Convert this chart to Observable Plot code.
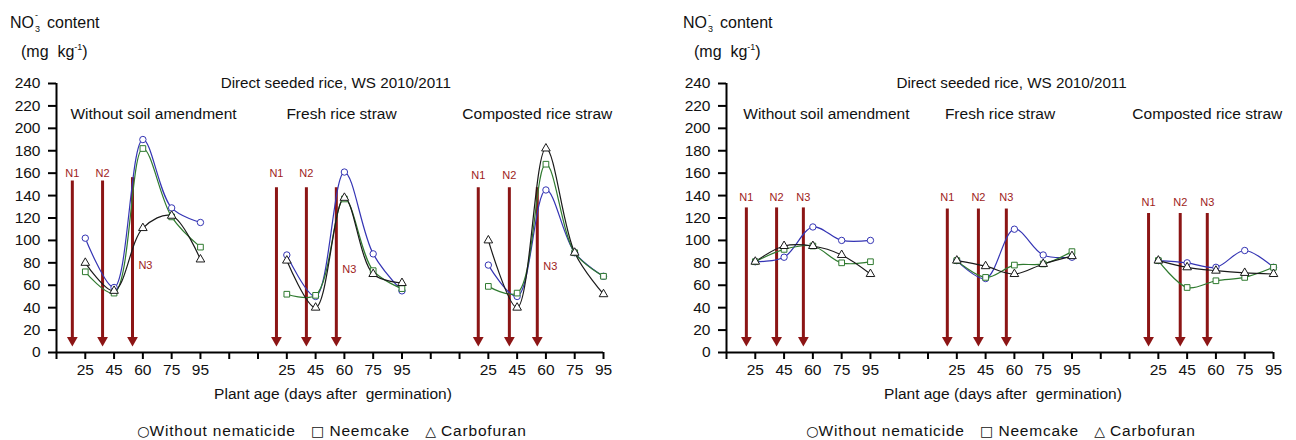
<!DOCTYPE html>
<html>
<head>
<meta charset="utf-8">
<script src="https://cdn.jsdelivr.net/npm/d3@7"></script>
<script src="https://cdn.jsdelivr.net/npm/@observablehq/plot@0.6"></script>
<style>
  body { margin: 0; background: #fff; font-family: "Liberation Sans", Arial, sans-serif; }
  #wrap { position: relative; width: 1296px; height: 440px; overflow: hidden; }
  .panel { position: absolute; top: 0; width: 648px; height: 440px; }
  .panel svg { position: absolute; left: 0; top: 0; }
  .ttl { position: absolute; font-size: 16px; color: #111; line-height: 1; white-space: nowrap; }
  .ttl sup { font-size: 9px; vertical-align: 7px; }
  .ss { display: inline-block; position: relative; width: 13px; height: 16px; vertical-align: top; }
  .ss .sp { position: absolute; left: 1px; top: -4px; font-size: 9px; line-height: 1; }
  .ss .sb { position: absolute; left: 1px; top: 10px; font-size: 9px; line-height: 1; }
  .legend { position: absolute; top: 423px; font-size: 15.5px; color: #111; white-space: pre; letter-spacing: 0.8px; transform: translateX(-50%); line-height: 1; }
  .legend .sym { font-family: "DejaVu Sans", sans-serif; font-size: 14px; letter-spacing: 0; }
</style>
</head>
<body>
<div id="wrap"></div>
<script>
// ---------- data ----------
const groups = ["Without soil amendment", "Fresh rice straw", "Composted rice straw"];
const days = [25, 45, 60, 75, 95];
const series = ["Without nematicide", "Neemcake", "Carbofuran"];

// left panel values (5 days x 3 groups)
const leftWithoutNematicide = [102, 58, 190, 129, 116,   87, 50, 161, 88, 55,   78, 50, 145, 89, 68];
const leftNeemcake          = [72, 53, 182, 121, 94,     52, 51, 137, 73, 57,   59, 53, 168, 89, 68];
const leftCarbofuran        = [80, 55, 111, 122, 83,     82, 40, 138, 70, 62,   100, 40, 182, 89, 52];

// right panel values
const rightWithoutNematicide = [81, 85, 112, 100, 100,   82, 66, 110, 87, 85,   82, 80, 76, 91, 76];
const rightNeemcake          = [81, 92, 95, 80, 81,      82, 67, 78, 79, 90,    82, 58, 64, 67, 76];
const rightCarbofuran        = [81, 95, 95, 87, 70,      82, 77, 70, 79, 86,    82, 76, 73, 71, 70];

// N application arrows (x in category-slot units, top value)
const arrowLabels = ["N1", "N2", "N3", "N1", "N2", "N3", "N1", "N2", "N3"];
const leftArrowX = [0.55, 1.6, 2.64, 7.64, 8.68, 9.72, 14.65, 15.73, 16.7];
const leftArrowTop = [153, 153, 156, 147, 147, 147, 147, 147, 147];
const leftArrowLabelY = [160, 160, 78, 160, 160, 74, 158, 158, 77];
const rightArrowX = [0.69, 1.74, 2.67, 7.67, 8.75, 9.72, 14.66, 15.76, 16.7];
const rightArrowTop = [129, 129, 129, 128, 128, 128, 124, 124, 124];
const rightArrowLabelY = [138, 138, 138, 138, 138, 138, 134, 134, 134];

const headline = "Direct seeded rice, WS 2010/2011";
const xTitle = "Plant age (days after  germination)";
const yTicks = d3.range(0, 241, 20);

// ---------- drawing ----------
const colors = ["#3434b4", "#2f7a2f", "#1a1a1a"];
const arrowColor = "#8c1515";

function slot(g, i) { return 1 + 7 * g + i; }

function buildRows(vals) {
  const rows = [];
  vals.forEach((arr, s) => {
    arr.forEach((v, k) => {
      const g = Math.floor(k / 5), i = k % 5;
      rows.push({series: series[s], group: groups[g], x: slot(g, i), day: days[i], value: v});
    });
  });
  return rows;
}

const tickLabel = new Map();
groups.forEach((g, gi) => days.forEach((d, i) => tickLabel.set(slot(gi, i), String(d))));

function makePanel(cfg) {
  const rows = buildRows(cfg.vals);
  const arrows = cfg.arrowX.map((x, k) => ({
    x, top: cfg.arrowTop[k], label: arrowLabels[k], ly: cfg.arrowLabelY[k],
    lx: (cfg.n3Below && arrowLabels[k] === "N3") ? x + 0.45 : x
  }));
  const groupLabels = groups.map((g, i) => ({text: g, x: cfg.groupLabelX[i]}));
  return Plot.plot({
    width: 648,
    height: 440,
    marginLeft: cfg.marginLeft,
    marginRight: cfg.marginRight,
    marginTop: 83,
    marginBottom: 88,
    style: {fontFamily: "Liberation Sans, Arial, sans-serif", fontSize: "15px", color: "#111", background: "transparent"},
    x: {domain: [0, 19]},
    y: {domain: [0, 240]},
    color: {domain: series, range: colors},
    symbol: {domain: series, range: ["circle", "square", "triangle"]},
    marks: [
      // arrows
      Plot.ruleX(arrows, {x: "x", y1: "top", y2: 12, stroke: arrowColor, strokeWidth: 3}),
      Plot.dot(arrows, {x: "x", y: 11, symbol: "triangle", rotate: 180, r: 4, fill: arrowColor, stroke: "none"}),
      Plot.text(arrows, {x: "lx", y: "ly", text: "label", fill: "#9e1c1c", fontSize: 11}),
      // series
      Plot.line(rows, {x: "x", y: "value", z: d => d.series + "|" + d.group, stroke: "series", strokeWidth: 1.2, curve: "catmull-rom"}),
      Plot.dot(rows, {x: "x", y: "value", symbol: "series", stroke: "series", fill: "white", r: 3.2, strokeWidth: 1}),
      // axes
      Plot.ruleY([0], {x1: 0, x2: 19, stroke: "#000", strokeWidth: 2}),
      Plot.ruleX([0], {y1: 0, y2: 240, stroke: "#000", strokeWidth: 2}),
      Plot.axisY({ticks: yTicks, tickSize: 8, tickPadding: 8, strokeWidth: 2, stroke: "#000", fontSize: 15.5, label: null}),
      Plot.axisX({ticks: d3.range(0, 20), tickFormat: i => tickLabel.get(i) || "", tickSize: 7, tickPadding: 4, strokeWidth: 2, stroke: "#000", fontSize: 15.5, label: null}),
      // texts
      Plot.text([headline], {x: cfg.headX, y: 240, text: d => d, fontSize: 15.2}),
      Plot.text(groupLabels, {x: "x", y: 213, text: "text", fontSize: 15.5}),
      Plot.text([xTitle], {frameAnchor: "bottom", dy: 46, text: d => d, fontSize: 15.5, dx: 3})
    ]
  });
}

const wrap = document.getElementById("wrap");
const panels = [
  {left: 0, marginLeft: 56, marginRight: 45, vals: [leftWithoutNematicide, leftNeemcake, leftCarbofuran],
   arrowX: leftArrowX, arrowTop: leftArrowTop, arrowLabelY: leftArrowLabelY, n3Below: true,
   groupLabelX: [3.37, 9.9, 16.7], headX: 9.7, titleLeft: 10, unitLeft: 21, legendX: 332},
  {left: 648, marginLeft: 78, marginRight: 23, vals: [rightWithoutNematicide, rightNeemcake, rightCarbofuran],
   arrowX: rightArrowX, arrowTop: rightArrowTop, arrowLabelY: rightArrowLabelY, n3Below: false,
   groupLabelX: [3.47, 9.5, 16.7], headX: 9.9, titleLeft: 35, unitLeft: 46, legendX: 353}
];

panels.forEach(cfg => {
  const div = document.createElement("div");
  div.className = "panel";
  div.style.left = cfg.left + "px";
  div.appendChild(makePanel(cfg));
  const t1 = document.createElement("div");
  t1.className = "ttl";
  t1.style.left = cfg.titleLeft + "px";
  t1.style.top = "15px";
  t1.innerHTML = 'NO<span class="ss"><span class="sp">-</span><span class="sb">3</span></span>content';
  div.appendChild(t1);
  const t2 = document.createElement("div");
  t2.className = "ttl";
  t2.style.left = cfg.unitLeft + "px";
  t2.style.top = "43px";
  t2.innerHTML = '(mg&nbsp; kg<sup>-1</sup>)';
  div.appendChild(t2);
  const lg = document.createElement("div");
  lg.className = "legend";
  lg.style.left = cfg.legendX + "px";
  lg.innerHTML = '<span class="sym">\u25CB</span>Without nematicide   <span class="sym">\u25A1</span> Neemcake   <span class="sym">\u25B3</span> Carbofuran';
  div.appendChild(lg);
  wrap.appendChild(div);
});
</script>
</body>
</html>
